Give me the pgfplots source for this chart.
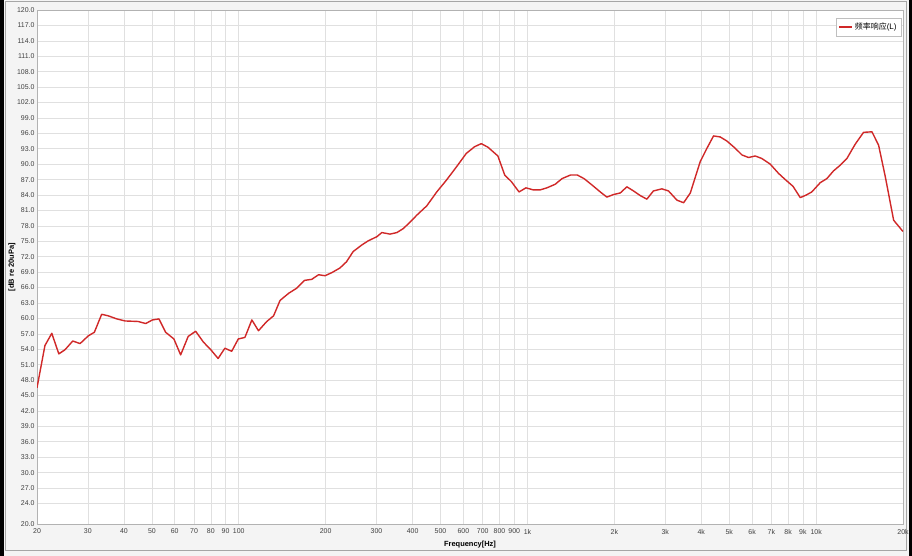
\documentclass[border=0pt]{standalone}
\usepackage{pgfplots}
\pgfplotsset{compat=1.18}
\usepackage{fontspec}
\setmainfont{Liberation Sans}
\newfontfamily\cjk{Noto Sans CJK SC}
\definecolor{respred}{RGB}{208,40,40}
\definecolor{gridc}{RGB}{224,224,224}
\definecolor{bgc}{RGB}{244,244,244}
\begin{document}
\begin{tikzpicture}
\fill[bgc] (0bp,0bp) rectangle (912bp,556bp);
\draw[gray!70, line width=1bp] (5bp,5bp) rectangle (906bp,554bp);
\fill[black] (0bp,0bp) rectangle (3.5bp,556bp);
\fill[black] (908.5bp,0bp) rectangle (912bp,556bp);
\fill[white] (37bp,32bp) rectangle (903bp,546bp);
\begin{axis}[
  at={(37bp,32bp)}, anchor=south west,
  scale only axis, width=866bp, height=514bp,
  xmode=log, xmin=20, xmax=20000, ymin=20, ymax=120,
  axis line style={gray!60},
  major tick length=0pt, minor tick length=0pt,
  grid=major, major grid style={gridc, line width=0.6bp},
  xtick={20,30,40,50,60,70,80,90,100,200,300,400,500,600,700,800,900,1000,2000,3000,4000,5000,6000,7000,8000,9000,10000,20000},
  xticklabels={20,30,40,50,60,70,80,90,100,200,300,400,500,600,700,800,900,1k,2k,3k,4k,5k,6k,7k,8k,9k,10k,20k},
  ytick={20,24,27,30,33,36,39,42,45,48,51,54,57,60,63,66,69,72,75,78,81,84,87,90,93,96,99,102,105,108,111,114,117,120},
  /pgf/number format/assume math mode=true,
  yticklabel={\pgfmathprintnumber[fixed,fixed zerofill,precision=1]{\tick}},
  tick label style={font=\fontsize{7}{8}\selectfont, text=black!75},
  xticklabel style={yshift=-1.5bp},
  yticklabel style={xshift=1bp},
  xlabel={\textbf{Frequency[Hz]}},
  ylabel={\textbf{[dB re 20uPa]}},
  label style={font=\fontsize{7.5}{9}\selectfont},
  xlabel style={at={(axis description cs:0.5,-0.0408)}, anchor=center},
  ylabel style={at={(axis description cs:-0.0289,0.5)}, anchor=center, rotate=0},
  legend style={at={(0.9985,0.985)}, anchor=north east, draw=gray!50, fill=white,
    font=\fontsize{8}{10}\selectfont, inner sep=3bp, row sep=0bp,
    legend cell align=left},
  legend image code/.code={\draw[respred, line width=1.2bp] (0bp,0bp) -- (13bp,0bp);},
]
\addplot[color=respred, line width=1.4bp, line join=round] coordinates {
(20,46.5) (21.3,54.7) (22.5,57.1) (23.8,53.1) (25.0,53.9) (26.6,55.6) (28.2,55.1)
(30.1,56.6) (31.6,57.3) (33.5,60.8) (35.3,60.5) (37.8,59.9) (40.4,59.5) (44.8,59.4)
(47.6,59.0) (50.2,59.7) (52.9,59.9) (55.8,57.3) (59.6,56.0) (62.9,52.9) (66.8,56.5)
(70.9,57.5) (75.4,55.4) (80.0,53.9) (84.8,52.2) (89.5,54.2) (94.5,53.6) (99.6,56.0)
(105,56.3) (111,59.7) (117,57.6) (125,59.4) (132,60.5) (139,63.5) (149,64.9)
(159,65.9) (169,67.4) (179,67.6) (189,68.5) (199,68.3) (210,68.9) (224,69.8)
(236,71.0) (249,73.0) (267,74.3) (281,75.1) (301,75.9) (313,76.7) (334,76.4)
(353,76.7) (372,77.5) (393,78.8) (414,80.1) (448,81.9) (485,84.6) (524,86.9)
(568,89.5) (614,92.1) (656,93.4) (692,94.0) (730,93.3) (790,91.6) (834,87.9)
(880,86.6) (935,84.6) (988,85.4) (1048,85.0) (1106,85.0) (1168,85.4) (1248,86.1)
(1318,87.2) (1410,87.9) (1488,87.9) (1570,87.2) (1678,85.9) (1788,84.6) (1884,83.6)
(1988,84.1) (2096,84.4) (2210,85.6) (2330,84.8) (2458,83.9) (2592,83.2) (2732,84.8)
(2922,85.2) (3080,84.8) (3296,83.0) (3476,82.5) (3666,84.4) (3968,90.5) (4186,93.1)
(4412,95.5) (4654,95.3) (4910,94.5) (5246,93.1) (5534,91.8) (5834,91.3) (6154,91.6)
(6490,91.1) (6938,90.0) (7414,88.2) (7822,87.0) (8316,85.7) (8812,83.5) (9240,84.0)
(9660,84.6) (10332,86.4) (10896,87.2) (11490,88.7) (12118,89.8) (12780,91.1)
(13660,93.9) (14600,96.2) (15612,96.3) (16460,93.7) (17360,87.6) (18560,79.1)
(20000,76.9)
};
\addlegendentry{{\cjk 频率响应}(L)}
\end{axis}
\useasboundingbox (0bp,0bp) rectangle (912bp,556bp);
\end{tikzpicture}
\end{document}
